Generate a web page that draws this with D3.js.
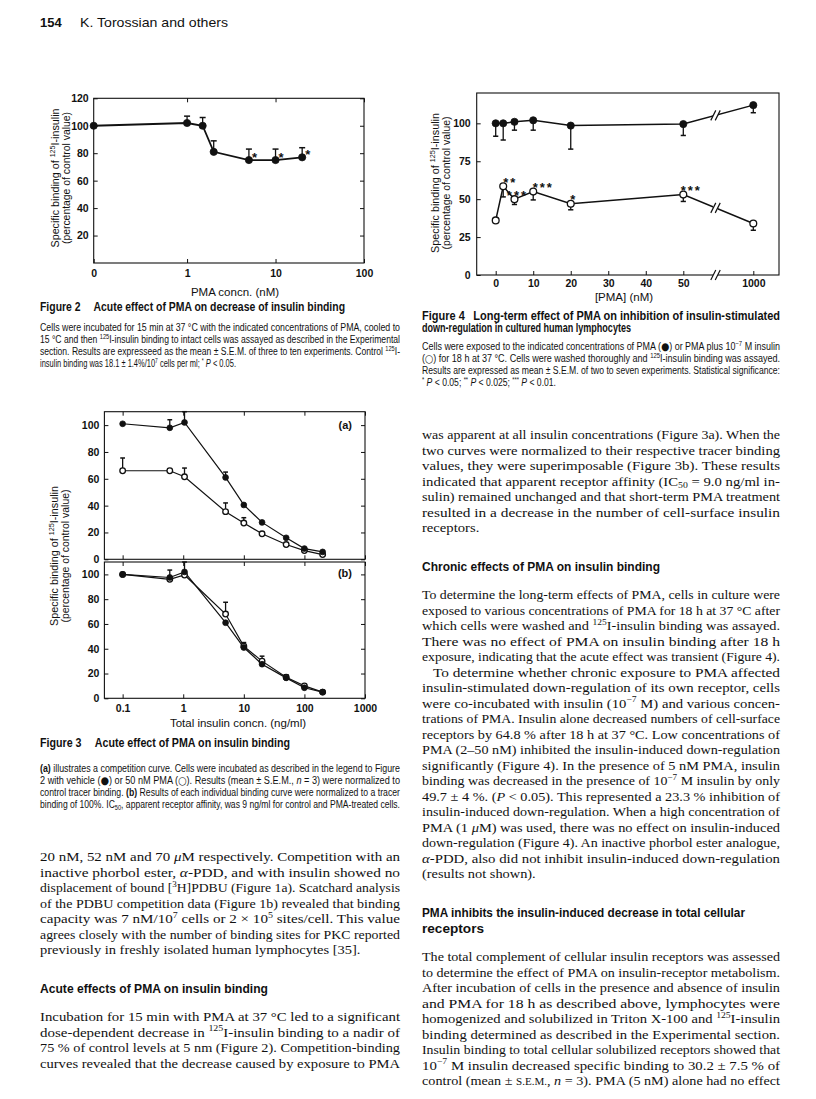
<!DOCTYPE html>
<html>
<head>
<meta charset="utf-8">
<script src="https://cdn.jsdelivr.net/npm/d3@7"></script>
<style>
body { margin: 0; background: #fff; }
svg { display: block; }
</style>
</head>
<body>
<svg id="page"></svg>
<script>
// Figure 2: acute effect of PMA (dose 0 is drawn at the left edge of the log axis)
let fig2Conc = [0, 1, 1.5, 2, 5, 10, 20];
let fig2Binding = [100, 102, 100, 81, 75, 75, 77];
let fig2ErrTop = [null, 107, 106, 89, 83, 83, 84];
let fig2Sig = ["", "", "", "", "*", "*", "*"];
let fig2XTicks = [0, 1, 10, 100];
let fig2YTicks = [20, 40, 60, 80, 100, 120];

// Figure 3: competition curves, vehicle (filled) and 50 nM PMA (open)
let fig3Conc = [0.1, 0.6, 1.05, 5, 10, 20, 50, 100, 200];
let fig3aVehicle = [101, 98, 102, 61, 40.5, 27.5, 16, 8, 5.5];
let fig3aVehicleErr = [null, 104, 110, 65, null, null, null, null, null];
let fig3aPMA = [66, 66, 61.5, 35.5, 27, 19, 11, 6.5, 3.5];
let fig3aPMAErr = [75.5, null, 68, 42, 31, null, null, null, null];
let fig3bVehicle = [100, 97.5, 102, 61, 41, 27.5, 16.5, 8.5, 5];
let fig3bVehicleErr = [null, 103.5, 110, null, null, null, null, null, null];
let fig3bPMA = [100, 96, 99.5, 68, 42, 30, 17, 10, 5];
let fig3bPMAErr = [null, null, null, 77.5, 45, 34, 19, null, null];
let fig3XTicks = [0.1, 1, 10, 100, 1000];
let fig3YTicks = [0, 20, 40, 60, 80, 100];

// Figure 4: long-term effect, PMA (filled) and PMA + insulin (open)
let fig4Conc = [0, 2, 5, 10, 20, 50, 1000];
let fig4PMA = [100, 100, 101, 102, 98.5, 99.5, 112];
let fig4PMAErr = [91.5, 89, 95.5, 95.5, 83, 92, 107];
let fig4Insulin = [36, 58.5, 50, 55, 47, 53, 34];
let fig4InsulinErr = [null, 51.5, 46.5, 49.5, 43, 48.5, 29.5];
let fig4Sig = ["", "**", "***", "***", "*", "***", ""];
let fig4XTicks = [0, 10, 20, 30, 40, 50, 1000];
let fig4YTicks = [0, 25, 50, 75, 100];

let sans = "'Liberation Sans', Arial, sans-serif";
let serif = "'Liberation Serif', 'Times New Roman', serif";
let ink = "#111";

let svg = d3.select("#page").attr("width", 816).attr("height", 1099);
svg.append("rect").attr("width", 816).attr("height", 1099).attr("fill", "#fff");

// text with {^sup} {_sub} {iitalic} {bbold} {ssmall} {csymbol}
function rich(text, str, fs) {
    let re = /\{([\^_ibsc])([^}]*)\}/g, last = 0, m, back = 0;
    let add = s => {
        let t = text.append("tspan").text(s);
        if (back) { t.attr("dy", back); back = 0; }
        return t;
    };
    while ((m = re.exec(str))) {
        if (m.index > last) add(str.slice(last, m.index));
        let t = add(m[2]);
        let dy = +t.attr("dy") || 0;
        if (m[1] === "^") { t.attr("dy", dy - fs * 0.38).attr("font-size", fs * 0.66); back = fs * 0.38; }
        if (m[1] === "_") { t.attr("dy", dy + fs * 0.22).attr("font-size", fs * 0.66); back = -fs * 0.22; }
        if (m[1] === "i") t.attr("font-style", "italic");
        if (m[1] === "b") t.attr("font-weight", "bold");
        if (m[1] === "s") t.attr("font-size", fs * 0.78);
        if (m[1] === "c") t.attr("font-family", "'DejaVu Sans', sans-serif").attr("font-size", fs * 1.05);
        last = re.lastIndex;
    }
    if (last < str.length) add(str.slice(last));
}

function block(lines, o) {
    let g = svg.append("g")
        .attr("font-family", o.font)
        .attr("font-size", o.size)
        .attr("font-weight", o.weight || "normal")
        .attr("fill", ink);
    let items = lines.map((str, i) => {
        let ind = (o.indent && i === 0) ? o.indent : 0;
        let t = g.append("text").attr("x", o.x + ind).attr("y", o.y + i * o.lh);
        rich(t, str, o.size);
        let just = o.justify !== false && (i < lines.length - 1 || o.justifyLast);
        return { t, ind, just, nat: t.node().getComputedTextLength() };
    });
    let js = items.filter(d => d.just);
    let k = o.condense || (js.length ? d3.mean(js, d => (o.width - d.ind) / d.nat) : 1);
    items.forEach((d, i) => {
        let len = d.just ? o.width - d.ind : (o.lens && o.lens[i]) || d.nat * k;
        d.t.attr("lengthAdjust", "spacingAndGlyphs").attr("textLength", len);
    });
}

function styleAxis(g) {
    g.select(".domain").remove();
    g.selectAll("line").attr("stroke", ink).attr("stroke-width", 1);
    g.selectAll("text").attr("font-family", sans).attr("font-size", 10.5)
        .attr("font-weight", "bold").attr("fill", ink);
}

function frame(l, t, r, b) {
    svg.append("rect").attr("x", l).attr("y", t).attr("width", r - l).attr("height", b - t)
        .attr("fill", "none").attr("stroke", ink).attr("stroke-width", 1.1);
}

function errBars(g, pts, x, y, cap) {
    let e = pts.filter(d => d.e != null);
    g.selectAll(null).data(e).enter().append("line")
        .attr("x1", d => x(d)).attr("x2", d => x(d))
        .attr("y1", d => y(d.v)).attr("y2", d => y(d.e))
        .attr("stroke", ink).attr("stroke-width", 1.3);
    g.selectAll(null).data(e).enter().append("line")
        .attr("x1", d => x(d) - cap).attr("x2", d => x(d) + cap)
        .attr("y1", d => y(d.e)).attr("y2", d => y(d.e))
        .attr("stroke", ink).attr("stroke-width", 1.5);
}

function dots(g, pts, x, y, r, open) {
    g.selectAll(null).data(pts).enter().append("circle")
        .attr("cx", d => x(d)).attr("cy", d => y(d.v)).attr("r", r)
        .attr("fill", open ? "#fff" : ink)
        .attr("stroke", ink).attr("stroke-width", open ? 1.3 : 0.8);
}

function yTitle(x, cy, len) {
    let a = svg.append("text").attr("transform", `translate(${x},${cy}) rotate(-90)`)
        .attr("text-anchor", "middle").attr("font-family", sans).attr("font-size", 11).attr("fill", ink);
    rich(a, "Specific binding of {^125}I-insulin", 11);
    a.attr("textLength", len).attr("lengthAdjust", "spacingAndGlyphs");
    svg.append("text").attr("transform", `translate(${x + 11},${cy}) rotate(-90)`)
        .attr("text-anchor", "middle").attr("font-family", sans).attr("font-size", 11).attr("fill", ink)
        .attr("textLength", len * 0.95).attr("lengthAdjust", "spacingAndGlyphs")
        .text("(percentage of control value)");
}

function xTitle(x, y, str) {
    svg.append("text").attr("x", x).attr("y", y).attr("text-anchor", "middle")
        .attr("font-family", sans).attr("font-size", 11.5).attr("fill", ink).text(str);
}

// header
svg.append("text").attr("x", 40).attr("y", 27).attr("font-family", sans).attr("font-size", 13)
    .attr("font-weight", "bold").attr("fill", ink).text("154");
svg.append("text").attr("x", 80).attr("y", 27).attr("font-family", sans).attr("font-size", 13)
    .attr("fill", ink).attr("textLength", 148).attr("lengthAdjust", "spacingAndGlyphs")
    .text("K. Torossian and others");

// ---------- Figure 2 ----------
let f2 = { l: 93.7, r: 364, t: 98.3, b: 263 };
let x2 = d3.scaleLog().domain([0.088, 100]).range([f2.l, f2.r]);
let y2 = d3.scaleLinear().domain([0, 120]).range([f2.b, f2.t]);
let zeroPos2 = c => c === 0 ? x2.domain()[0] : c;
let pts2 = fig2Conc.map((c, i) => ({ c, v: fig2Binding[i], e: fig2ErrTop[i], s: fig2Sig[i] }));
let px2 = d => x2(zeroPos2(d.c));

frame(f2.l, f2.t, f2.r, f2.b);
svg.append("g").attr("transform", `translate(${f2.l},0)`)
    .call(d3.axisLeft(y2).tickValues(fig2YTicks).tickSize(-4).tickPadding(5)).call(styleAxis);
svg.append("g").attr("transform", `translate(${f2.r},0)`)
    .call(d3.axisRight(y2).tickValues(fig2YTicks).tickSize(-4).tickFormat("")).call(styleAxis);
svg.append("g").attr("transform", `translate(0,${f2.b})`)
    .call(d3.axisBottom(x2).tickValues(fig2XTicks.map(zeroPos2))
        .tickFormat((d, i) => String(fig2XTicks[i])).tickSize(-4).tickPadding(7)).call(styleAxis);
svg.append("g").attr("transform", `translate(0,${f2.t})`)
    .call(d3.axisTop(x2).tickValues(fig2XTicks.slice(1)).tickFormat("").tickSize(-4)).call(styleAxis);

let g2 = svg.append("g");
errBars(g2, pts2, px2, y2, 3);
g2.append("path").datum(pts2)
    .attr("d", d3.line().x(px2).y(d => y2(d.v)))
    .attr("fill", "none").attr("stroke", ink).attr("stroke-width", 1.8);
dots(g2, pts2, px2, y2, 3.6, false);
g2.selectAll(null).data(pts2.filter(d => d.s)).enter().append("text")
    .attr("x", d => px2(d) + 3).attr("y", d => y2(d.v) + 2)
    .attr("font-family", sans).attr("font-size", 13).attr("font-weight", "bold").attr("fill", ink)
    .text(d => d.s);
yTitle(59, 178, 139);
xTitle(235, 296, "PMA concn. (nM)");

// ---------- Figure 4 ----------
let f4 = { l: 476.7, r: 779, t: 93, b: 275 };
let x4 = d3.scaleLinear().domain([0, 50, 1000]).range([495.7, 683.3, 753.3]);
let y4 = d3.scaleLinear().domain([0, 120]).range([f4.b, f4.t]);
let breakX = x4(50) + 0.46 * (x4(1000) - x4(50));
let px4 = d => x4(d.c);
let pma4 = fig4Conc.map((c, i) => ({ c, v: fig4PMA[i], e: fig4PMAErr[i] }));
let ins4 = fig4Conc.map((c, i) => ({ c, v: fig4Insulin[i], e: fig4InsulinErr[i], s: fig4Sig[i] }));
// horizontal nudges of the significance stars so they do not collide
let starNudge = { 2: 7, 5: 3, 10: 10, 20: 3, 50: 8 };

frame(f4.l, f4.t, f4.r, f4.b);
svg.append("g").attr("transform", `translate(${f4.l},0)`)
    .call(d3.axisLeft(y4).tickValues(fig4YTicks).tickSize(-4).tickPadding(6)).call(styleAxis);
svg.append("g").attr("transform", `translate(0,${f4.b})`)
    .call(d3.axisBottom(x4).tickValues(fig4XTicks).tickFormat(d3.format("d"))
        .tickSize(-4).tickPadding(5)).call(styleAxis);

function breakMark(x, y) {
    svg.append("rect").attr("x", x - 2.5).attr("y", y - 5).attr("width", 5).attr("height", 10).attr("fill", "#fff");
    [-2.2, 2.2].forEach(o => {
        svg.append("line").attr("x1", x + o - 2.5).attr("y1", y + 5).attr("x2", x + o + 2.5).attr("y2", y - 5)
            .attr("stroke", ink).attr("stroke-width", 1.2);
    });
}

let g4 = svg.append("g");
[pma4, ins4].forEach(pts => {
    errBars(g4, pts, px4, y4, 2.6);
    g4.append("path").datum(pts)
        .attr("d", d3.line().x(px4).y(d => y4(d.v)))
        .attr("fill", "none").attr("stroke", ink).attr("stroke-width", 1.5);
});
[pma4, ins4].forEach(pts => {
    let a = pts[pts.length - 2], b = pts[pts.length - 1];
    let t = (breakX - px4(a)) / (px4(b) - px4(a));
    breakMark(breakX, y4(a.v) + t * (y4(b.v) - y4(a.v)));
});
breakMark(breakX, f4.b);
dots(g4, pma4, px4, y4, 3.6, false);
dots(g4, ins4, px4, y4, 3.4, true);
g4.selectAll(null).data(ins4.filter(d => d.s)).enter().append("text")
    .attr("x", d => px4(d) + starNudge[d.c]).attr("y", d => y4(d.v) + 0.5)
    .attr("text-anchor", "middle")
    .attr("font-family", sans).attr("font-size", 13).attr("font-weight", "bold")
    .attr("letter-spacing", 2).attr("fill", ink)
    .text(d => d.s);
yTitle(439, 183, 140);
xTitle(624, 301, "[PMA] (nM)");

// ---------- Figure 3 ----------
let x3 = d3.scaleLog().domain([0.05, 1000]).range([104.4, 365]);
function panel3(t, b, veh, vehErr, pma, pmaErr, label, labelY, showX) {
    let y = d3.scaleLinear().domain([0, 110]).range([b, t]);
    let px = d => x3(d.c);
    frame(x3.range()[0], t, x3.range()[1], b);
    svg.append("g").attr("transform", `translate(${x3.range()[0]},0)`)
        .call(d3.axisLeft(y).tickValues(fig3YTicks).tickSize(-4).tickPadding(5)).call(styleAxis);
    svg.append("g").attr("transform", `translate(${x3.range()[1]},0)`)
        .call(d3.axisRight(y).tickValues(fig3YTicks).tickSize(-4).tickFormat("")).call(styleAxis);
    svg.append("g").attr("transform", `translate(0,${b})`)
        .call(d3.axisBottom(x3).tickValues(fig3XTicks).tickFormat(showX ? d3.format("~g") : "")
            .tickSize(-4).tickPadding(6)).call(styleAxis);
    svg.append("g").attr("transform", `translate(0,${t})`)
        .call(d3.axisTop(x3).tickValues(fig3XTicks).tickFormat("").tickSize(-4)).call(styleAxis);
    let vPts = fig3Conc.map((c, i) => ({ c, v: veh[i], e: vehErr[i] }));
    let pPts = fig3Conc.map((c, i) => ({ c, v: pma[i], e: pmaErr[i] }));
    let g = svg.append("g");
    errBars(g, vPts, px, y, 2.4);
    errBars(g, pPts, px, y, 2.4);
    [vPts, pPts].forEach(pts => {
        g.append("path").datum(pts).attr("d", d3.line().x(px).y(d => y(d.v)))
            .attr("fill", "none").attr("stroke", ink).attr("stroke-width", 1.2);
    });
    dots(g, pPts, px, y, 2.8, true);
    dots(g, vPts, px, y, 2.9, false);
    svg.append("text").attr("x", 352).attr("y", labelY).attr("text-anchor", "end")
        .attr("font-family", sans).attr("font-size", 11).attr("font-weight", "bold").attr("fill", ink)
        .text(label);
}
panel3(411.7, 559.3, fig3aVehicle, fig3aVehicleErr, fig3aPMA, fig3aPMAErr, "(a)", 429, false);
panel3(562, 698.3, fig3bVehicle, fig3bVehicleErr, fig3bPMA, fig3bPMAErr, "(b)", 577, true);
yTitle(58, 556, 140);
xTitle(238, 727, "Total insulin concn. (ng/ml)");

// ---------- captions ----------
let capL = { x: 40, width: 360, font: sans, size: 10, lh: 12 };
let capR = { x: 422, width: 358, font: sans, size: 10, lh: 12 };
let boldCap = { font: sans, size: 12.5, weight: "bold", lh: 12, justify: false };

block(["Figure 2\u2002\u2002 Acute effect of PMA on decrease of insulin binding"],
    Object.assign({}, boldCap, { x: 40, y: 311, lens: [305] }));
block([
    "Cells were incubated for 15 min at 37 °C with the indicated concentrations of PMA, cooled to",
    "15 °C and then {^125}I-insulin binding to intact cells was assayed as described in the Experimental",
    "section. Results are expresseed as the mean ± S.E.M. of three to ten experiments. Control {^125}I-",
    "insulin binding was 18.1 ± 1.4%/10{^7} cells per ml; {^*} {iP} < 0.05."
], Object.assign({}, capL, { y: 331, lens: [0, 0, 0, 196] }));

block([
    "Figure 4\u2002 Long-term effect of PMA on inhibition of insulin-stimulated",
    "down-regulation in cultured human lymphocytes"
], { x: 422, y: 320, width: 358, font: sans, size: 12.5, weight: "bold", lh: 12, lens: [0, 209] });
block([
    "Cells were exposed to the indicated concentrations of PMA ({c●}) or PMA plus 10{^−7} M insulin",
    "({c○}) for 18 h at 37 °C. Cells were washed thoroughly and {^125}I-insulin binding was assayed.",
    "Results are expressed as mean ± S.E.M. of two to seven experiments. Statistical significance:",
    "{^*} {iP} < 0.05; {^**} {iP} < 0.025; {^***} {iP} < 0.01."
], Object.assign({}, capR, { y: 350, lens: [0, 0, 0, 134] }));

block(["Figure 3\u2002\u2002 Acute effect of PMA on insulin binding"],
    Object.assign({}, boldCap, { x: 40, y: 747, lens: [250] }));
block([
    "{b(a)} illustrates a competition curve. Cells were incubated as described in the legend to Figure",
    "2 with vehicle ({c●}) or 50 nM PMA ({c○}). Results (mean ± S.E.M., {in} = 3) were normalized to",
    "control tracer binding. {b(b)} Results of each individual binding curve were normalized to a tracer",
    "binding of 100%. IC{_50}, apparent receptor affinity, was 9 ng/ml for control and PMA-treated cells."
], Object.assign({}, capL, { y: 772, justifyLast: true }));

// ---------- body text ----------
let bodyL = { x: 40, width: 360, font: serif, size: 13.5, lh: 15.5 };
let bodyR = { x: 422, width: 358, font: serif, size: 13.5, lh: 15.5 };
let head = { font: sans, size: 13.5, weight: "bold", lh: 15.5, justify: false };

block([
    "20 nM, 52 nM and 70 {iμ}M respectively. Competition with an",
    "inactive phorbol ester, {iα}-PDD, and with insulin showed no",
    "displacement of bound [{^3}H]PDBU (Figure 1a). Scatchard analysis",
    "of the PDBU competition data (Figure 1b) revealed that binding",
    "capacity was 7 nM/10{^7} cells or 2 × 10{^5} sites/cell. This value",
    "agrees closely with the number of binding sites for PKC reported",
    "previously in freshly isolated human lymphocytes [35]."
], Object.assign({}, bodyL, { y: 861 }));
block(["Acute effects of PMA on insulin binding"], Object.assign({}, head, { x: 40, y: 993, lens: [228] }));
block([
    "Incubation for 15 min with PMA at 37 °C led to a significant",
    "dose-dependent decrease in {^125}I-insulin binding to a nadir of",
    "75 % of control levels at 5 nm (Figure 2). Competition-binding",
    "curves revealed that the decrease caused by exposure to PMA"
], Object.assign({}, bodyL, { y: 1021, justifyLast: true }));

block([
    "was apparent at all insulin concentrations (Figure 3a). When the",
    "two curves were normalized to their respective tracer binding",
    "values, they were superimposable (Figure 3b). These results",
    "indicated that apparent receptor affinity (IC{_50} = 9.0 ng/ml in-",
    "sulin) remained unchanged and that short-term PMA treatment",
    "resulted in a decrease in the number of cell-surface insulin",
    "receptors."
], Object.assign({}, bodyR, { y: 439 }));
block(["Chronic effects of PMA on insulin binding"], Object.assign({}, head, { x: 422, y: 571, lens: [238] }));
block([
    "To determine the long-term effects of PMA, cells in culture were",
    "exposed to various concentrations of PMA for 18 h at 37 °C after",
    "which cells were washed and {^125}I-insulin binding was assayed.",
    "There was no effect of PMA on insulin binding after 18 h",
    "exposure, indicating that the acute effect was transient (Figure 4)."
], Object.assign({}, bodyR, { y: 599, justifyLast: true }));
block([
    "To determine whether chronic exposure to PMA affected",
    "insulin-stimulated down-regulation of its own receptor, cells",
    "were co-incubated with insulin (10{^−7} M) and various concen-",
    "trations of PMA. Insulin alone decreased numbers of cell-surface",
    "receptors by 64.8 % after 18 h at 37 °C. Low concentrations of",
    "PMA (2–50 nM) inhibited the insulin-induced down-regulation",
    "significantly (Figure 4). In the presence of 5 nM PMA, insulin",
    "binding was decreased in the presence of 10{^−7} M insulin by only",
    "49.7 ± 4 %. ({iP} < 0.05). This represented a 23.3 % inhibition of",
    "insulin-induced down-regulation. When a high concentration of",
    "PMA (1 {iμ}M) was used, there was no effect on insulin-induced",
    "down-regulation (Figure 4). An inactive phorbol ester analogue,",
    "{iα}-PDD, also did not inhibit insulin-induced down-regulation",
    "(results not shown)."
], Object.assign({}, bodyR, { y: 676.5, indent: 11 }));
block([
    "PMA inhibits the insulin-induced decrease in total cellular",
    "receptors"
], Object.assign({}, head, { x: 422, y: 917, lens: [323, 62] }));
block([
    "The total complement of cellular insulin receptors was assessed",
    "to determine the effect of PMA on insulin-receptor metabolism.",
    "After incubation of cells in the presence and absence of insulin",
    "and PMA for 18 h as described above, lymphocytes were",
    "homogenized and solubilized in Triton X-100 and {^125}I-insulin",
    "binding determined as described in the Experimental section.",
    "Insulin binding to total cellular solubilized receptors showed that",
    "10{^−7} M insulin decreased specific binding to 30.2 ± 7.5 % of",
    "control (mean ± {sS.E.M.}, {in} = 3). PMA (5 nM) alone had no effect"
], Object.assign({}, bodyR, { y: 961, justifyLast: true }));
</script>
</body>
</html>
